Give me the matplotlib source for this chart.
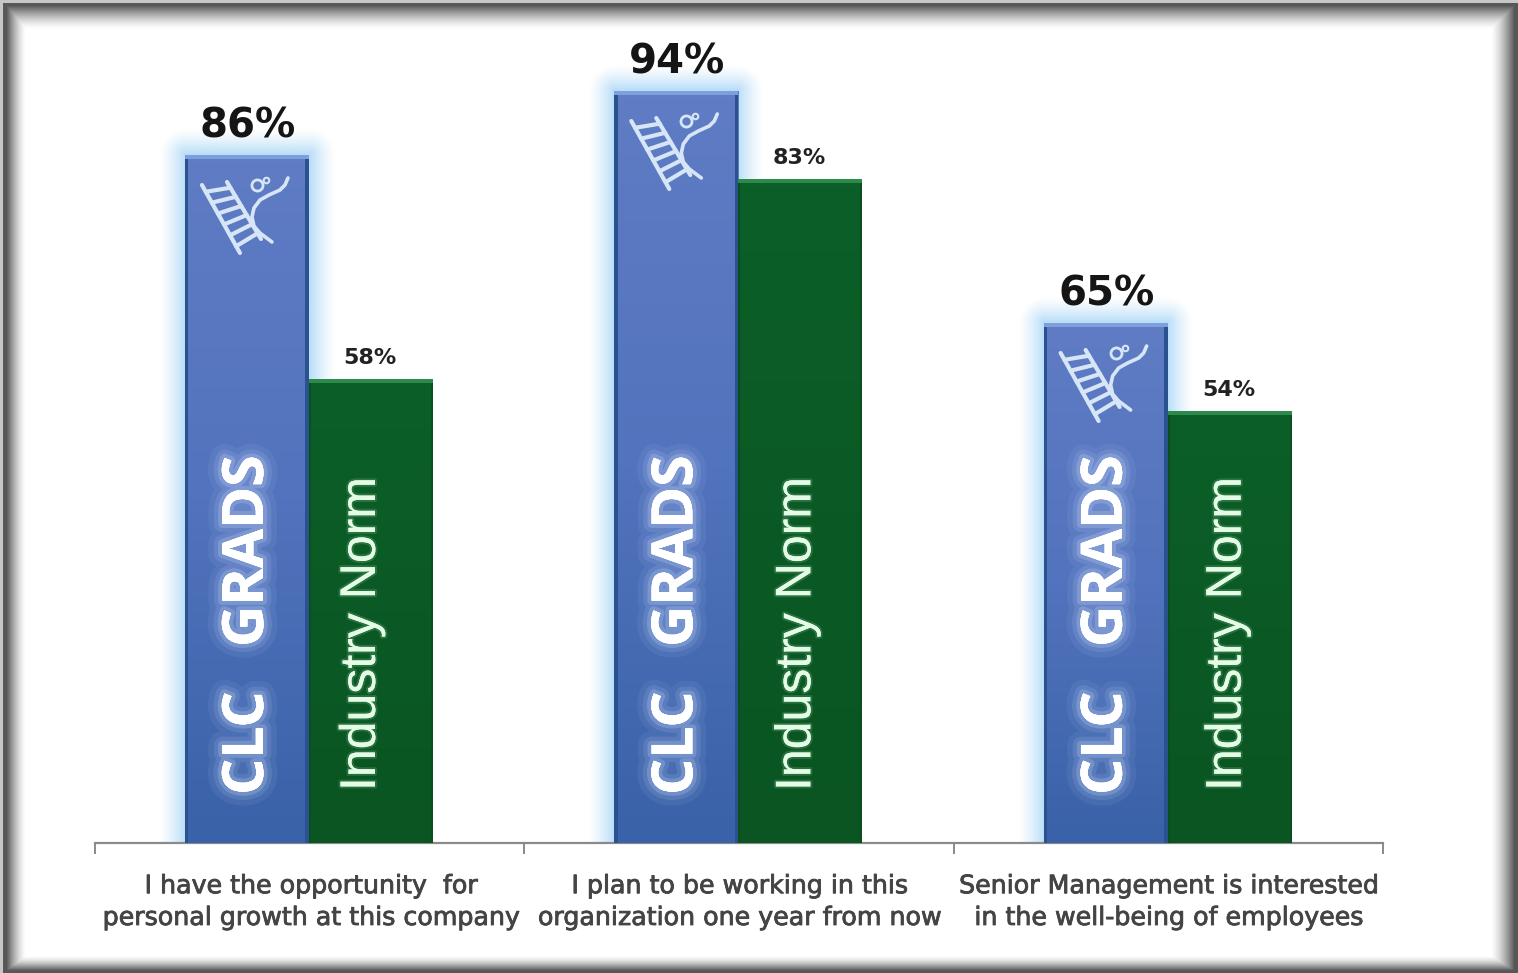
import numpy as np
import matplotlib
matplotlib.use("Agg")
import matplotlib.pyplot as plt
import matplotlib.patheffects as pe
from matplotlib.colors import LinearSegmentedColormap
from matplotlib.patches import Rectangle

categories = ["I have the opportunity  for\npersonal growth at this company",
              "I plan to be working in this\norganization one year from now",
              "Senior Management is interested\nin the well-being of employees"]
clc_grads = [86, 94, 65]
industry_norm = [58, 83, 54]
series_names = ["CLC   GRADS", "Industry Norm"]

W, H = 1518, 973
fig = plt.figure(figsize=(W/100, H/100), dpi=100)

# picture frame
bg = fig.add_axes([0, 0, 1, 1], zorder=0)
bg.axis("off")
yy, xx = np.mgrid[0:H, 0:W]
def edge(d, width, start):
    return np.clip(1 - (d - start) / width, 0, 1) ** 1.5
frame = np.maximum.reduce([edge(xx, 20, 6), edge(W - 1 - xx, 24, 3),
                           edge(yy, 24, 5), edge(H - 1 - yy, 15, 2)])
shade = 1 - 0.66 * frame
rim = (yy < 3) | (xx < 3)
shade[rim] = 0.78
bg.imshow(shade, cmap="gray", vmin=0, vmax=1, aspect="auto", extent=(0, W, H, 0))

ax = fig.add_axes([95/W, (H-843)/H, (1383-95)/W, 800/H], zorder=1)
ax.patch.set_alpha(0)
ax.set_xlim(0, 3)
ax.set_ylim(0, 100)
for s in ["top", "left", "right"]:
    ax.spines[s].set_visible(False)
ax.spines["bottom"].set_color("#8a8a8a")
ax.spines["bottom"].set_linewidth(1.6)
ax.set_yticks([])
ax.set_xticks([0, 1, 2, 3])
ax.set_xticklabels([])
ax.tick_params(axis="x", direction="out", length=8, width=1.4, color="#8a8a8a")

sx = 1288 / 3      # pixels per category
bw = 124 / sx
blue_cm = LinearSegmentedColormap.from_list("b", ["#3a62a8", "#5273bd", "#5f7cc4"])
green_cm = LinearSegmentedColormap.from_list("g", ["#0a5522", "#0b5a25", "#0c5f28"])

def gradient_bar(x0, w, v, cmap, edgecol, topcol, edge_w):
    g = np.linspace(0, 1, 64)[:, None]
    ax.imshow(g, cmap=cmap, origin="lower", aspect="auto",
              extent=(x0, x0 + w, 0, v), zorder=3, interpolation="bilinear")
    ax.add_patch(Rectangle((x0, 0), edge_w / sx, v, color=edgecol, lw=0, zorder=4))
    ax.add_patch(Rectangle((x0 + w - edge_w / sx, 0), edge_w / sx, v, color=edgecol, lw=0, zorder=4))
    ax.add_patch(Rectangle((x0, v - 0.55), w, 0.55, color=topcol, lw=0, zorder=4))

def glow(x0, w, v):
    pad = 26
    w_px, h_px = int(w * sx), int(v * 8)
    gx = np.arange(-pad, w_px + pad)
    gy = np.arange(0, h_px + pad)
    dx = np.maximum(np.maximum(-gx, gx - w_px), 0)[None, :]
    dy = np.maximum(gy - h_px, 0)[:, None]
    d = np.hypot(dx, dy)
    a = np.clip(1 - d / pad, 0, 1) ** 1.3 * 0.85
    rgba = np.zeros(a.shape + (4,))
    rgba[..., :3] = matplotlib.colors.to_rgb("#acd8f7")
    rgba[..., 3] = a
    ax.imshow(rgba, origin="lower", aspect="auto", zorder=2,
              extent=(x0 - pad / sx, x0 + (w_px + pad) / sx, 0, v + pad / 8))

def logo(cx, v):
    col = "#d6e6f7"
    def P(px, py):
        return cx + px / sx, v - py / 8
    kw = dict(color=col, lw=3.0, solid_capstyle="round", zorder=6)
    ax.plot(*zip(P(-45, 30), P(-7, 98)), **kw)
    ax.plot(*zip(P(-20, 27), P(14, 84)), **kw)
    for t in np.linspace(0.1, 0.9, 6):
        a = (-45 + 38 * t, 30 + 68 * t)
        b = (-20 + 34 * t, 27 + 57 * t)
        ax.plot(*zip(P(*a), P(*b)), **kw)
    curve = [(41, 23), (38, 30), (33, 35), (22, 40), (13, 45), (7, 53), (5, 62), (7, 71), (13, 78), (25, 87)]
    ax.plot(*zip(*[P(*p) for p in curve]), color=col, lw=2.6, solid_capstyle="round", zorder=6)
    ax.plot(*P(10, 30), "o", mfc="none", mec=col, mew=2, ms=8, zorder=6)
    ax.plot(*P(19, 25), "o", mfc="none", mec=col, mew=1.5, ms=4, zorder=6)

centers = np.arange(3) + 0.5
glow_pe = [pe.withStroke(linewidth=w, foreground="#cfe0ff", alpha=a) for w, a in [(20, 0.07), (12, 0.12), (6, 0.22)]]
norm_shift = [9, 3, 2]
for i, c in enumerate(centers):
    x_blue = c - bw - 0.7 / sx
    x_green = c - 0.7 / sx
    glow(x_blue, bw, clc_grads[i])
    gradient_bar(x_blue, bw, clc_grads[i], blue_cm, "#2a528f", "#7d9fdc", 3.5)
    gradient_bar(x_green, bw, industry_norm[i], green_cm, "#0a501f", "#2d8a4a", 2)
    logo(x_blue + bw / 2, clc_grads[i])
    ax.text(x_blue + bw / 2 + 1 / sx, clc_grads[i] + 1.05, f"{clc_grads[i]}%", ha="center", va="bottom",
            fontsize=29, fontweight="bold", color="#151515", zorder=7)
    ax.text(x_green + bw / 2 - 1 / sx, industry_norm[i] + 1.4, f"{industry_norm[i]}%", ha="center", va="bottom",
            fontsize=16, fontweight="bold", color="#222222", zorder=7)
    t = ax.text(x_blue + bw / 2 + 1 / sx, 6.0, series_names[0], rotation=90, ha="center", va="bottom",
                fontsize=41, fontweight="bold", color="white", zorder=7, family="Open Sans")
    t.set_path_effects(glow_pe + [pe.Normal()])
    t2 = ax.text(x_green + bw / 2 - norm_shift[i] / sx, 6.5, series_names[1], rotation=90, ha="center", va="bottom",
                 fontsize=36, color="#e4fbe6", family="Liberation Sans", zorder=7)
    t2.set_path_effects([pe.withStroke(linewidth=3, foreground="#7fc08f", alpha=0.25), pe.Normal()])
    ax.text(c + (0.002 if i == 0 else 0.0), -3.9, categories[i], ha="center", va="top", fontsize=18.2,
            color="#444444", linespacing=1.41, clip_on=False,
            path_effects=[pe.withStroke(linewidth=0.6, foreground="#444444")])

fig.savefig("out.png", dpi=100)
